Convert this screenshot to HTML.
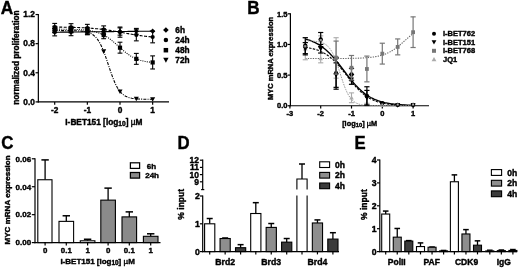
<!DOCTYPE html>
<html><head><meta charset="utf-8"><title>Figure</title>
<style>
html,body{margin:0;padding:0;background:#fff;}
body{width:520px;height:268px;overflow:hidden;}
svg{display:block;font-family:"Liberation Sans",Arial,Helvetica,sans-serif;font-weight:bold;fill:#000;}
text{stroke:#000;stroke-width:0.4px;stroke-linejoin:round;}
</style></head><body>
<svg width="520" height="268" viewBox="0 0 520 268">
<defs><filter id="soft" x="-2%" y="-2%" width="104%" height="104%"><feGaussianBlur stdDeviation="0.3"/></filter></defs>
<rect width="520" height="268" fill="#fff"/>
<g filter="url(#soft)">
<g id="panelA">
<text transform="translate(0.80,13.50) scale(0.96,1)" font-size="18" text-anchor="start">A</text>
<line x1="38.35" y1="13.94" x2="38.35" y2="102.50" stroke="#000" stroke-width="1.2" />
<line x1="37.75" y1="101.90" x2="169.00" y2="101.90" stroke="#000" stroke-width="1.2" />
<line x1="35.55" y1="14.54" x2="38.35" y2="14.54" stroke="#000" stroke-width="1.2" />
<text x="34.85" y="17.34" font-size="8.3" text-anchor="end" >1.2</text>
<line x1="35.55" y1="43.66" x2="38.35" y2="43.66" stroke="#000" stroke-width="1.2" />
<text x="34.85" y="46.46" font-size="8.3" text-anchor="end" >0.8</text>
<line x1="35.55" y1="72.78" x2="38.35" y2="72.78" stroke="#000" stroke-width="1.2" />
<text x="34.85" y="75.58" font-size="8.3" text-anchor="end" >0.4</text>
<line x1="35.55" y1="101.90" x2="38.35" y2="101.90" stroke="#000" stroke-width="1.2" />
<text x="34.85" y="104.70" font-size="8.3" text-anchor="end" >0.0</text>
<line x1="54.70" y1="101.90" x2="54.70" y2="104.70" stroke="#000" stroke-width="1.2" />
<text x="54.70" y="113.10" font-size="8.3" text-anchor="middle" >-2</text>
<line x1="87.35" y1="101.90" x2="87.35" y2="104.70" stroke="#000" stroke-width="1.2" />
<text x="87.35" y="113.10" font-size="8.3" text-anchor="middle" >-1</text>
<line x1="120.00" y1="101.90" x2="120.00" y2="104.70" stroke="#000" stroke-width="1.2" />
<text x="120.00" y="113.10" font-size="8.3" text-anchor="middle" >0</text>
<line x1="152.65" y1="101.90" x2="152.65" y2="104.70" stroke="#000" stroke-width="1.2" />
<text x="152.65" y="113.10" font-size="8.3" text-anchor="middle" >1</text>
<text transform="translate(19.30,57.60) rotate(-90)" font-size="8.3" text-anchor="middle">normalized proliferation</text>
<text x="103.90" y="124.60" font-size="8.3" text-anchor="middle" >I-BET151 [log<tspan font-size="6.64" dy="1.7">10</tspan><tspan dy="-1.7">]</tspan> <tspan font-weight="normal">µ</tspan>M</text>
<polyline points="54.70,32.23 55.92,32.22 57.15,32.20 58.37,32.19 59.60,32.18 60.82,32.16 62.05,32.15 63.27,32.13 64.50,32.12 65.72,32.11 66.94,32.09 68.17,32.08 69.39,32.07 70.62,32.05 71.84,32.04 73.07,32.03 74.29,32.01 75.51,32.00 76.74,31.98 77.96,31.97 79.19,31.96 80.41,31.94 81.64,31.93 82.86,31.92 84.09,31.90 85.31,31.89 86.53,31.88 87.76,31.86 88.98,31.85 90.21,31.83 91.43,31.82 92.66,31.81 93.88,31.79 95.10,31.78 96.33,31.77 97.55,31.75 98.78,31.74 100.00,31.73 101.23,31.71 102.45,31.70 103.67,31.68 104.90,31.67 106.12,31.66 107.35,31.64 108.57,31.63 109.80,31.62 111.02,31.60 112.25,31.59 113.47,31.58 114.69,31.56 115.92,31.55 117.14,31.53 118.37,31.52 119.59,31.51 120.82,31.49 122.04,31.48 123.27,31.47 124.49,31.45 125.71,31.44 126.94,31.43 128.16,31.41 129.39,31.40 130.61,31.38 131.84,31.37 133.06,31.36 134.28,31.34 135.51,31.33 136.73,31.32 137.96,31.30 139.18,31.29 140.41,31.27 141.63,31.26 142.86,31.25 144.08,31.23 145.30,31.22 146.53,31.21 147.75,31.19 148.98,31.18 150.20,31.17 151.43,31.15 152.65,31.14" fill="none" stroke="#000" stroke-width="1.1" />
<polyline points="54.70,27.06 55.92,27.08 57.15,27.09 58.37,27.10 59.60,27.12 60.82,27.13 62.05,27.15 63.27,27.17 64.50,27.19 65.72,27.21 66.94,27.23 68.17,27.26 69.39,27.29 70.62,27.31 71.84,27.34 73.07,27.38 74.29,27.41 75.51,27.45 76.74,27.49 77.96,27.54 79.19,27.59 80.41,27.64 81.64,27.69 82.86,27.75 84.09,27.81 85.31,27.88 86.53,27.95 87.76,28.02 88.98,28.10 90.21,28.19 91.43,28.28 92.66,28.38 93.88,28.48 95.10,28.59 96.33,28.70 97.55,28.82 98.78,28.95 100.00,29.08 101.23,29.22 102.45,29.37 103.67,29.52 104.90,29.68 106.12,29.85 107.35,30.03 108.57,30.21 109.80,30.39 111.02,30.58 112.25,30.78 113.47,30.99 114.69,31.19 115.92,31.41 117.14,31.62 118.37,31.84 119.59,32.06 120.82,32.29 122.04,32.51 123.27,32.74 124.49,32.97 125.71,33.19 126.94,33.42 128.16,33.64 129.39,33.86 130.61,34.07 131.84,34.29 133.06,34.49 134.28,34.70 135.51,34.90 136.73,35.09 137.96,35.27 139.18,35.45 140.41,35.63 141.63,35.80 142.86,35.96 144.08,36.11 145.30,36.26 146.53,36.40 147.75,36.53 148.98,36.66 150.20,36.78 151.43,36.89 152.65,37.00" fill="none" stroke="#000" stroke-width="1.1" stroke-dasharray="3,1.5"/>
<polyline points="54.70,29.14 55.92,29.15 57.15,29.15 58.37,29.16 59.60,29.17 60.82,29.18 62.05,29.19 63.27,29.20 64.50,29.21 65.72,29.23 66.94,29.25 68.17,29.27 69.39,29.29 70.62,29.32 71.84,29.35 73.07,29.38 74.29,29.42 75.51,29.46 76.74,29.51 77.96,29.57 79.19,29.63 80.41,29.71 81.64,29.79 82.86,29.88 84.09,29.99 85.31,30.11 86.53,30.24 87.76,30.39 88.98,30.56 90.21,30.76 91.43,30.97 92.66,31.21 93.88,31.49 95.10,31.79 96.33,32.13 97.55,32.51 98.78,32.93 100.00,33.39 101.23,33.90 102.45,34.46 103.67,35.07 104.90,35.74 106.12,36.46 107.35,37.23 108.57,38.06 109.80,38.94 111.02,39.88 112.25,40.85 113.47,41.87 114.69,42.93 115.92,44.00 117.14,45.10 118.37,46.21 119.59,47.31 120.82,48.41 122.04,49.49 123.27,50.54 124.49,51.56 125.71,52.54 126.94,53.47 128.16,54.36 129.39,55.19 130.61,55.96 131.84,56.68 133.06,57.35 134.28,57.96 135.51,58.52 136.73,59.03 137.96,59.49 139.18,59.91 140.41,60.29 141.63,60.63 142.86,60.93 144.08,61.20 145.30,61.44 146.53,61.66 147.75,61.85 148.98,62.02 150.20,62.18 151.43,62.31 152.65,62.43" fill="none" stroke="#000" stroke-width="1.1" stroke-dasharray="1,1.2"/>
<polyline points="54.70,30.56 55.92,30.56 57.15,30.56 58.37,30.57 59.60,30.57 60.82,30.57 62.05,30.58 63.27,30.58 64.50,30.59 65.72,30.59 66.94,30.60 68.17,30.61 69.39,30.63 70.62,30.64 71.84,30.66 73.07,30.69 74.29,30.72 75.51,30.76 76.74,30.81 77.96,30.88 79.19,30.95 80.41,31.05 81.64,31.16 82.86,31.31 84.09,31.49 85.31,31.71 86.53,31.98 87.76,32.31 88.98,32.72 90.21,33.23 91.43,33.84 92.66,34.58 93.88,35.49 95.10,36.57 96.33,37.86 97.55,39.40 98.78,41.20 100.00,43.29 101.23,45.68 102.45,48.38 103.67,51.38 104.90,54.64 106.12,58.12 107.35,61.75 108.57,65.45 109.80,69.14 111.02,72.74 112.25,76.16 113.47,79.36 114.69,82.28 115.92,84.89 117.14,87.21 118.37,89.22 119.59,90.94 120.82,92.41 122.04,93.65 123.27,94.68 124.49,95.54 125.71,96.24 126.94,96.83 128.16,97.30 129.39,97.69 130.61,98.01 131.84,98.26 133.06,98.47 134.28,98.64 135.51,98.78 136.73,98.89 137.96,98.98 139.18,99.05 140.41,99.11 141.63,99.16 142.86,99.19 144.08,99.22 145.30,99.25 146.53,99.27 147.75,99.29 148.98,99.30 150.20,99.31 151.43,99.32 152.65,99.32" fill="none" stroke="#000" stroke-width="1.1" stroke-dasharray="3,1.2,1,1.2"/>
<line x1="54.70" y1="28.59" x2="54.70" y2="35.87" stroke="#000" stroke-width="1.1" />
<line x1="52.30" y1="28.59" x2="57.10" y2="28.59" stroke="#000" stroke-width="1.1" />
<line x1="52.30" y1="35.87" x2="57.10" y2="35.87" stroke="#000" stroke-width="1.1" />
<polygon points="54.70,29.61 57.33,32.23 54.70,34.86 52.08,32.23" fill="#000"/>
<line x1="54.70" y1="23.42" x2="54.70" y2="30.70" stroke="#000" stroke-width="1.1" />
<line x1="52.30" y1="23.42" x2="57.10" y2="23.42" stroke="#000" stroke-width="1.1" />
<line x1="52.30" y1="30.70" x2="57.10" y2="30.70" stroke="#000" stroke-width="1.1" />
<circle cx="54.70" cy="27.06" r="2.10" fill="#000"/>
<line x1="54.70" y1="26.23" x2="54.70" y2="32.05" stroke="#000" stroke-width="1.1" />
<line x1="52.30" y1="26.23" x2="57.10" y2="26.23" stroke="#000" stroke-width="1.1" />
<line x1="52.30" y1="32.05" x2="57.10" y2="32.05" stroke="#000" stroke-width="1.1" />
<rect x="52.60" y="27.04" width="4.20" height="4.20" fill="#000"/>
<line x1="54.70" y1="28.38" x2="54.70" y2="32.75" stroke="#000" stroke-width="1.1" />
<line x1="52.30" y1="28.38" x2="57.10" y2="28.38" stroke="#000" stroke-width="1.1" />
<line x1="52.30" y1="32.75" x2="57.10" y2="32.75" stroke="#000" stroke-width="1.1" />
<polygon points="52.18,28.55 57.22,28.55 54.70,33.08" fill="#000"/>
<line x1="71.03" y1="28.41" x2="71.03" y2="35.69" stroke="#000" stroke-width="1.1" />
<line x1="68.62" y1="28.41" x2="73.43" y2="28.41" stroke="#000" stroke-width="1.1" />
<line x1="68.62" y1="35.69" x2="73.43" y2="35.69" stroke="#000" stroke-width="1.1" />
<polygon points="71.03,29.42 73.65,32.05 71.03,34.67 68.40,32.05" fill="#000"/>
<line x1="71.03" y1="23.68" x2="71.03" y2="30.96" stroke="#000" stroke-width="1.1" />
<line x1="68.62" y1="23.68" x2="73.43" y2="23.68" stroke="#000" stroke-width="1.1" />
<line x1="68.62" y1="30.96" x2="73.43" y2="30.96" stroke="#000" stroke-width="1.1" />
<circle cx="71.03" cy="27.32" r="2.10" fill="#000"/>
<line x1="71.03" y1="26.42" x2="71.03" y2="32.24" stroke="#000" stroke-width="1.1" />
<line x1="68.62" y1="26.42" x2="73.43" y2="26.42" stroke="#000" stroke-width="1.1" />
<line x1="68.62" y1="32.24" x2="73.43" y2="32.24" stroke="#000" stroke-width="1.1" />
<rect x="68.93" y="27.23" width="4.20" height="4.20" fill="#000"/>
<line x1="71.03" y1="28.47" x2="71.03" y2="32.83" stroke="#000" stroke-width="1.1" />
<line x1="68.62" y1="28.47" x2="73.43" y2="28.47" stroke="#000" stroke-width="1.1" />
<line x1="68.62" y1="32.83" x2="73.43" y2="32.83" stroke="#000" stroke-width="1.1" />
<polygon points="68.51,28.63 73.55,28.63 71.03,33.17" fill="#000"/>
<line x1="87.35" y1="28.95" x2="87.35" y2="34.78" stroke="#000" stroke-width="1.1" />
<line x1="84.95" y1="28.95" x2="89.75" y2="28.95" stroke="#000" stroke-width="1.1" />
<line x1="84.95" y1="34.78" x2="89.75" y2="34.78" stroke="#000" stroke-width="1.1" />
<polygon points="87.35,29.24 89.97,31.87 87.35,34.49 84.72,31.87" fill="#000"/>
<line x1="87.35" y1="24.36" x2="87.35" y2="31.64" stroke="#000" stroke-width="1.1" />
<line x1="84.95" y1="24.36" x2="89.75" y2="24.36" stroke="#000" stroke-width="1.1" />
<line x1="84.95" y1="31.64" x2="89.75" y2="31.64" stroke="#000" stroke-width="1.1" />
<circle cx="87.35" cy="28.00" r="2.10" fill="#000"/>
<line x1="87.35" y1="27.43" x2="87.35" y2="33.25" stroke="#000" stroke-width="1.1" />
<line x1="84.95" y1="27.43" x2="89.75" y2="27.43" stroke="#000" stroke-width="1.1" />
<line x1="84.95" y1="33.25" x2="89.75" y2="33.25" stroke="#000" stroke-width="1.1" />
<rect x="85.25" y="28.24" width="4.20" height="4.20" fill="#000"/>
<line x1="87.35" y1="30.01" x2="87.35" y2="34.38" stroke="#000" stroke-width="1.1" />
<line x1="84.95" y1="30.01" x2="89.75" y2="30.01" stroke="#000" stroke-width="1.1" />
<line x1="84.95" y1="34.38" x2="89.75" y2="34.38" stroke="#000" stroke-width="1.1" />
<polygon points="84.83,30.18 89.87,30.18 87.35,34.72" fill="#000"/>
<line x1="103.67" y1="28.77" x2="103.67" y2="34.60" stroke="#000" stroke-width="1.1" />
<line x1="101.27" y1="28.77" x2="106.08" y2="28.77" stroke="#000" stroke-width="1.1" />
<line x1="101.27" y1="34.60" x2="106.08" y2="34.60" stroke="#000" stroke-width="1.1" />
<polygon points="103.67,29.06 106.30,31.68 103.67,34.31 101.05,31.68" fill="#000"/>
<line x1="103.67" y1="25.88" x2="103.67" y2="33.16" stroke="#000" stroke-width="1.1" />
<line x1="101.27" y1="25.88" x2="106.08" y2="25.88" stroke="#000" stroke-width="1.1" />
<line x1="101.27" y1="33.16" x2="106.08" y2="33.16" stroke="#000" stroke-width="1.1" />
<circle cx="103.67" cy="29.52" r="2.10" fill="#000"/>
<line x1="103.67" y1="31.43" x2="103.67" y2="38.71" stroke="#000" stroke-width="1.1" />
<line x1="101.27" y1="31.43" x2="106.08" y2="31.43" stroke="#000" stroke-width="1.1" />
<line x1="101.27" y1="38.71" x2="106.08" y2="38.71" stroke="#000" stroke-width="1.1" />
<rect x="101.58" y="32.97" width="4.20" height="4.20" fill="#000"/>
<polygon points="101.16,49.36 106.19,49.36 103.67,53.90" fill="#000"/>
<line x1="120.00" y1="27.86" x2="120.00" y2="35.14" stroke="#000" stroke-width="1.1" />
<line x1="117.60" y1="27.86" x2="122.40" y2="27.86" stroke="#000" stroke-width="1.1" />
<line x1="117.60" y1="35.14" x2="122.40" y2="35.14" stroke="#000" stroke-width="1.1" />
<polygon points="120.00,28.88 122.62,31.50 120.00,34.13 117.38,31.50" fill="#000"/>
<line x1="120.00" y1="27.04" x2="120.00" y2="37.23" stroke="#000" stroke-width="1.1" />
<line x1="117.60" y1="27.04" x2="122.40" y2="27.04" stroke="#000" stroke-width="1.1" />
<line x1="117.60" y1="37.23" x2="122.40" y2="37.23" stroke="#000" stroke-width="1.1" />
<circle cx="120.00" cy="32.14" r="2.10" fill="#000"/>
<line x1="120.00" y1="42.22" x2="120.00" y2="53.14" stroke="#000" stroke-width="1.1" />
<line x1="117.60" y1="42.22" x2="122.40" y2="42.22" stroke="#000" stroke-width="1.1" />
<line x1="117.60" y1="53.14" x2="122.40" y2="53.14" stroke="#000" stroke-width="1.1" />
<rect x="117.90" y="45.58" width="4.20" height="4.20" fill="#000"/>
<polygon points="117.48,89.44 122.52,89.44 120.00,93.98" fill="#000"/>
<line x1="136.32" y1="28.41" x2="136.32" y2="34.23" stroke="#000" stroke-width="1.1" />
<line x1="133.92" y1="28.41" x2="138.72" y2="28.41" stroke="#000" stroke-width="1.1" />
<line x1="133.92" y1="34.23" x2="138.72" y2="34.23" stroke="#000" stroke-width="1.1" />
<polygon points="136.32,28.70 138.95,31.32 136.32,33.95 133.70,31.32" fill="#000"/>
<line x1="136.32" y1="29.20" x2="136.32" y2="40.85" stroke="#000" stroke-width="1.1" />
<line x1="133.92" y1="29.20" x2="138.72" y2="29.20" stroke="#000" stroke-width="1.1" />
<line x1="133.92" y1="40.85" x2="138.72" y2="40.85" stroke="#000" stroke-width="1.1" />
<circle cx="136.32" cy="35.02" r="2.10" fill="#000"/>
<line x1="136.32" y1="53.40" x2="136.32" y2="64.32" stroke="#000" stroke-width="1.1" />
<line x1="133.92" y1="53.40" x2="138.72" y2="53.40" stroke="#000" stroke-width="1.1" />
<line x1="133.92" y1="64.32" x2="138.72" y2="64.32" stroke="#000" stroke-width="1.1" />
<rect x="134.22" y="56.76" width="4.20" height="4.20" fill="#000"/>
<polygon points="133.80,96.84 138.84,96.84 136.32,101.37" fill="#000"/>
<polygon points="152.65,28.51 155.28,31.14 152.65,33.76 150.03,31.14" fill="#000"/>
<line x1="152.65" y1="31.18" x2="152.65" y2="42.83" stroke="#000" stroke-width="1.1" />
<line x1="150.25" y1="31.18" x2="155.05" y2="31.18" stroke="#000" stroke-width="1.1" />
<line x1="150.25" y1="42.83" x2="155.05" y2="42.83" stroke="#000" stroke-width="1.1" />
<circle cx="152.65" cy="37.00" r="2.10" fill="#000"/>
<line x1="152.65" y1="55.88" x2="152.65" y2="68.98" stroke="#000" stroke-width="1.1" />
<line x1="150.25" y1="55.88" x2="155.05" y2="55.88" stroke="#000" stroke-width="1.1" />
<line x1="150.25" y1="68.98" x2="155.05" y2="68.98" stroke="#000" stroke-width="1.1" />
<rect x="150.55" y="60.33" width="4.20" height="4.20" fill="#000"/>
<polygon points="150.13,97.31 155.17,97.31 152.65,101.84" fill="#000"/>
<polygon points="165.90,27.19 168.71,30.00 165.90,32.81 163.09,30.00" fill="#000"/>
<text x="175.30" y="33.00" font-size="8.3" text-anchor="start" >6h</text>
<circle cx="165.90" cy="40.00" r="2.25" fill="#000"/>
<text x="175.30" y="43.00" font-size="8.3" text-anchor="start" >24h</text>
<rect x="163.65" y="47.95" width="4.50" height="4.50" fill="#000"/>
<text x="175.30" y="53.20" font-size="8.3" text-anchor="start" >48h</text>
<polygon points="163.20,57.84 168.60,57.84 165.90,62.70" fill="#000"/>
<text x="175.30" y="63.00" font-size="8.3" text-anchor="start" >72h</text>
</g>
<g id="panelB">
<text transform="translate(247.30,14.00) scale(0.95,1)" font-size="18" text-anchor="start">B</text>
<line x1="290.40" y1="13.20" x2="290.40" y2="106.35" stroke="#000" stroke-width="1.2" />
<line x1="289.80" y1="105.75" x2="429.00" y2="105.75" stroke="#000" stroke-width="1.2" />
<line x1="287.60" y1="13.80" x2="290.40" y2="13.80" stroke="#000" stroke-width="1.2" />
<text x="287.50" y="16.50" font-size="7.5" text-anchor="end" >1.5</text>
<line x1="287.60" y1="44.45" x2="290.40" y2="44.45" stroke="#000" stroke-width="1.2" />
<text x="287.50" y="47.15" font-size="7.5" text-anchor="end" >1.0</text>
<line x1="287.60" y1="75.10" x2="290.40" y2="75.10" stroke="#000" stroke-width="1.2" />
<text x="287.50" y="77.80" font-size="7.5" text-anchor="end" >0.5</text>
<line x1="287.60" y1="105.75" x2="290.40" y2="105.75" stroke="#000" stroke-width="1.2" />
<text x="287.50" y="108.45" font-size="7.5" text-anchor="end" >0.0</text>
<line x1="289.90" y1="105.75" x2="289.90" y2="108.55" stroke="#000" stroke-width="1.2" />
<text x="289.90" y="115.65" font-size="7.5" text-anchor="middle" >-3</text>
<line x1="320.70" y1="105.75" x2="320.70" y2="108.55" stroke="#000" stroke-width="1.2" />
<text x="320.70" y="115.65" font-size="7.5" text-anchor="middle" >-2</text>
<line x1="351.50" y1="105.75" x2="351.50" y2="108.55" stroke="#000" stroke-width="1.2" />
<text x="351.50" y="115.65" font-size="7.5" text-anchor="middle" >-1</text>
<line x1="382.30" y1="105.75" x2="382.30" y2="108.55" stroke="#000" stroke-width="1.2" />
<text x="382.30" y="115.65" font-size="7.5" text-anchor="middle" >0</text>
<line x1="413.10" y1="105.75" x2="413.10" y2="108.55" stroke="#000" stroke-width="1.2" />
<text x="413.10" y="115.65" font-size="7.5" text-anchor="middle" >1</text>
<text transform="translate(272.60,58.50) rotate(-90)" font-size="7.5" text-anchor="middle">MYC mRNA expression</text>
<text x="359.60" y="125.50" font-size="7.35" text-anchor="middle" >[log<tspan font-size="5.88" dy="1.7">10</tspan><tspan dy="-1.7">]</tspan> <tspan font-weight="normal">µ</tspan>M</text>
<polyline points="305.30,39.01 306.65,39.38 308.00,39.79 309.34,40.24 310.69,40.73 312.04,41.26 313.38,41.83 314.73,42.46 316.08,43.14 317.43,43.87 318.78,44.66 320.12,45.51 321.47,46.43 322.82,47.41 324.17,48.46 325.51,49.57 326.86,50.75 328.21,52.01 329.56,53.33 330.90,54.71 332.25,56.16 333.60,57.68 334.94,59.24 336.29,60.86 337.64,62.53 338.99,64.23 340.34,65.96 341.68,67.72 343.03,69.49 344.38,71.26 345.73,73.03 347.07,74.79 348.42,76.53 349.77,78.24 351.12,79.91 352.46,81.53 353.81,83.11 355.16,84.63 356.50,86.09 357.85,87.48 359.20,88.81 360.55,90.08 361.89,91.27 363.24,92.39 364.59,93.45 365.94,94.44 367.29,95.36 368.63,96.22 369.98,97.02 371.33,97.77 372.68,98.45 374.02,99.09 375.37,99.67 376.72,100.21 378.06,100.70 379.41,101.15 380.76,101.57 382.11,101.95 383.46,102.29 384.80,102.61 386.15,102.90 387.50,103.16 388.85,103.40 390.19,103.62 391.54,103.82 392.89,104.00 394.24,104.16 395.58,104.31 396.93,104.45 398.28,104.57 399.62,104.68 400.97,104.78 402.32,104.87 403.67,104.96 405.01,105.03 406.36,105.10 407.71,105.16 409.06,105.22 410.41,105.27 411.75,105.31 413.10,105.36" fill="none" stroke="#000" stroke-width="1.35" />
<polyline points="305.30,47.31 306.65,47.51 308.00,47.73 309.34,47.97 310.69,48.24 312.04,48.54 313.38,48.87 314.73,49.24 316.08,49.65 317.43,50.10 318.78,50.60 320.12,51.15 321.47,51.75 322.82,52.41 324.17,53.14 325.51,53.93 326.86,54.79 328.21,55.72 329.56,56.73 330.90,57.81 332.25,58.97 333.60,60.21 334.94,61.53 336.29,62.91 337.64,64.37 338.99,65.90 340.34,67.48 341.68,69.11 343.03,70.79 344.38,72.49 345.73,74.22 347.07,75.96 348.42,77.70 349.77,79.42 351.12,81.12 352.46,82.79 353.81,84.41 355.16,85.97 356.50,87.48 357.85,88.92 359.20,90.28 360.55,91.58 361.89,92.79 363.24,93.93 364.59,94.99 365.94,95.98 367.29,96.89 368.63,97.73 369.98,98.50 371.33,99.21 372.68,99.85 374.02,100.44 375.37,100.98 376.72,101.46 378.06,101.90 379.41,102.30 380.76,102.65 382.11,102.98 383.46,103.27 384.80,103.53 386.15,103.76 387.50,103.98 388.85,104.16 390.19,104.33 391.54,104.49 392.89,104.62 394.24,104.74 395.58,104.85 396.93,104.95 398.28,105.03 399.62,105.11 400.97,105.18 402.32,105.24 403.67,105.30 405.01,105.35 406.36,105.39 407.71,105.43 409.06,105.46 410.41,105.50 411.75,105.52 413.10,105.55" fill="none" stroke="#000" stroke-width="1.1" stroke-dasharray="2.5,1.3"/>
<polyline points="305.30,58.55 306.65,58.55 308.00,58.55 309.34,58.55 310.69,58.55 312.04,58.54 313.38,58.54 314.73,58.54 316.08,58.54 317.43,58.54 318.78,58.54 320.12,58.54 321.47,58.54 322.82,58.54 324.17,58.54 325.51,58.53 326.86,58.53 328.21,58.53 329.56,58.53 330.90,58.52 332.25,58.52 333.60,58.51 334.94,58.51 336.29,58.50 337.64,58.50 338.99,58.49 340.34,58.48 341.68,58.47 343.03,58.46 344.38,58.45 345.73,58.44 347.07,58.42 348.42,58.40 349.77,58.38 351.12,58.36 352.46,58.34 353.81,58.31 355.16,58.27 356.50,58.23 357.85,58.19 359.20,58.14 360.55,58.08 361.89,58.02 363.24,57.95 364.59,57.87 365.94,57.77 367.29,57.67 368.63,57.55 369.98,57.41 371.33,57.26 372.68,57.08 374.02,56.89 375.37,56.66 376.72,56.42 378.06,56.14 379.41,55.82 380.76,55.47 382.11,55.09 383.46,54.65 384.80,54.17 386.15,53.64 387.50,53.06 388.85,52.42 390.19,51.72 391.54,50.96 392.89,50.14 394.24,49.26 395.58,48.32 396.93,47.33 398.28,46.28 399.62,45.19 400.97,44.06 402.32,42.89 403.67,41.70 405.01,40.50 406.36,39.30 407.71,38.10 409.06,36.92 410.41,35.77 411.75,34.66 413.10,33.58" fill="none" stroke="#666" stroke-width="1.1" stroke-dasharray="1.3,1.2"/>
<polyline points="305.30,40.85 306.65,40.87 308.00,40.90 309.34,40.94 310.69,40.98 312.04,41.05 313.38,41.13 314.73,41.24 316.08,41.38 317.43,41.55 318.78,41.78 320.12,42.08 321.47,42.46 322.82,42.95 324.17,43.58 325.51,44.37 326.86,45.37 328.21,46.63 329.56,48.18 330.90,50.08 332.25,52.37 333.60,55.08 334.94,58.21 336.29,61.75 337.64,65.63 338.99,69.75 340.34,73.99 341.68,78.21 343.03,82.26 344.38,86.03 345.73,89.43 347.07,92.42 348.42,94.98 349.77,97.14 351.12,98.91 352.46,100.36 353.81,101.52 355.16,102.44 356.50,103.18 357.85,103.75 359.20,104.20 360.55,104.55 361.89,104.82 363.24,105.03 364.59,105.20 365.94,105.32 367.29,105.42 368.63,105.50 369.98,105.56 371.33,105.60 372.68,105.63 374.02,105.66 375.37,105.68 376.72,105.70 378.06,105.71 379.41,105.72 380.76,105.73 382.11,105.73 383.46,105.74 384.80,105.74 386.15,105.74 387.50,105.74 388.85,105.75 390.19,105.75 391.54,105.75 392.89,105.75 394.24,105.75 395.58,105.75 396.93,105.75 398.28,105.75 399.62,105.75 400.97,105.75 402.32,105.75 403.67,105.75 405.01,105.75 406.36,105.75 407.71,105.75 409.06,105.75 410.41,105.75 411.75,105.75 413.10,105.75" fill="none" stroke="#999" stroke-width="1.0" stroke-dasharray="1.6,1"/>
<line x1="305.30" y1="37.71" x2="305.30" y2="59.78" stroke="#aaa" stroke-width="1.1" />
<line x1="302.70" y1="37.71" x2="307.90" y2="37.71" stroke="#aaa" stroke-width="1.1" />
<line x1="302.70" y1="59.78" x2="307.90" y2="59.78" stroke="#aaa" stroke-width="1.1" />
<polygon points="303.02,50.56 307.58,50.56 305.30,46.46" fill="#aaa"/>
<line x1="320.70" y1="35.87" x2="320.70" y2="62.84" stroke="#aaa" stroke-width="1.1" />
<line x1="318.10" y1="35.87" x2="323.30" y2="35.87" stroke="#aaa" stroke-width="1.1" />
<line x1="318.10" y1="62.84" x2="323.30" y2="62.84" stroke="#aaa" stroke-width="1.1" />
<polygon points="318.42,60.37 322.98,60.37 320.70,56.27" fill="#aaa"/>
<line x1="336.10" y1="37.71" x2="336.10" y2="78.16" stroke="#aaa" stroke-width="1.1" />
<line x1="333.50" y1="37.71" x2="338.70" y2="37.71" stroke="#aaa" stroke-width="1.1" />
<line x1="333.50" y1="78.16" x2="338.70" y2="78.16" stroke="#aaa" stroke-width="1.1" />
<polygon points="333.82,59.76 338.38,59.76 336.10,55.66" fill="#aaa"/>
<line x1="351.50" y1="92.88" x2="351.50" y2="102.69" stroke="#aaa" stroke-width="1.1" />
<line x1="348.90" y1="92.88" x2="354.10" y2="92.88" stroke="#aaa" stroke-width="1.1" />
<line x1="348.90" y1="102.69" x2="354.10" y2="102.69" stroke="#aaa" stroke-width="1.1" />
<polygon points="349.22,99.61 353.78,99.61 351.50,95.50" fill="#aaa"/>
<line x1="366.90" y1="103.30" x2="366.90" y2="105.75" stroke="#aaa" stroke-width="1.1" />
<line x1="364.30" y1="103.30" x2="369.50" y2="103.30" stroke="#aaa" stroke-width="1.1" />
<line x1="364.30" y1="105.75" x2="369.50" y2="105.75" stroke="#aaa" stroke-width="1.1" />
<polygon points="364.62,106.35 369.18,106.35 366.90,102.24" fill="#aaa"/>
<polygon points="380.02,106.96 384.58,106.96 382.30,102.86" fill="#aaa"/>
<polygon points="395.42,106.96 399.98,106.96 397.70,102.86" fill="#aaa"/>
<polygon points="410.82,106.96 415.38,106.96 413.10,102.86" fill="#aaa"/>
<line x1="305.30" y1="37.71" x2="305.30" y2="53.65" stroke="#000" stroke-width="1.2" />
<line x1="302.70" y1="37.71" x2="307.90" y2="37.71" stroke="#000" stroke-width="1.2" />
<line x1="302.70" y1="53.65" x2="307.90" y2="53.65" stroke="#000" stroke-width="1.2" />
<circle cx="305.30" cy="45.68" r="2.20" fill="#000"/>
<line x1="320.70" y1="32.50" x2="320.70" y2="46.60" stroke="#000" stroke-width="1.2" />
<line x1="318.10" y1="32.50" x2="323.30" y2="32.50" stroke="#000" stroke-width="1.2" />
<line x1="318.10" y1="46.60" x2="323.30" y2="46.60" stroke="#000" stroke-width="1.2" />
<circle cx="320.70" cy="39.55" r="2.20" fill="#000"/>
<line x1="336.10" y1="57.32" x2="336.10" y2="89.20" stroke="#000" stroke-width="1.2" />
<line x1="333.50" y1="57.32" x2="338.70" y2="57.32" stroke="#000" stroke-width="1.2" />
<line x1="333.50" y1="89.20" x2="338.70" y2="89.20" stroke="#000" stroke-width="1.2" />
<circle cx="336.10" cy="73.26" r="2.20" fill="#000"/>
<line x1="351.50" y1="68.36" x2="351.50" y2="80.62" stroke="#000" stroke-width="1.2" />
<line x1="348.90" y1="68.36" x2="354.10" y2="68.36" stroke="#000" stroke-width="1.2" />
<line x1="348.90" y1="80.62" x2="354.10" y2="80.62" stroke="#000" stroke-width="1.2" />
<circle cx="351.50" cy="74.49" r="2.20" fill="#000"/>
<line x1="366.90" y1="86.75" x2="366.90" y2="105.14" stroke="#000" stroke-width="1.2" />
<line x1="364.30" y1="86.75" x2="369.50" y2="86.75" stroke="#000" stroke-width="1.2" />
<line x1="364.30" y1="105.14" x2="369.50" y2="105.14" stroke="#000" stroke-width="1.2" />
<circle cx="366.90" cy="95.94" r="2.20" fill="#000"/>
<circle cx="382.30" cy="103.30" r="2.20" fill="#000"/>
<circle cx="397.70" cy="104.83" r="2.20" fill="#000"/>
<circle cx="413.10" cy="104.83" r="2.20" fill="#000"/>
<line x1="305.30" y1="42.61" x2="305.30" y2="54.87" stroke="#000" stroke-width="1.2" />
<line x1="302.70" y1="42.61" x2="307.90" y2="42.61" stroke="#000" stroke-width="1.2" />
<line x1="302.70" y1="54.87" x2="307.90" y2="54.87" stroke="#000" stroke-width="1.2" />
<polygon points="302.78,46.73 307.82,46.73 305.30,51.26" fill="#000"/>
<line x1="320.70" y1="44.45" x2="320.70" y2="53.03" stroke="#000" stroke-width="1.2" />
<line x1="318.10" y1="44.45" x2="323.30" y2="44.45" stroke="#000" stroke-width="1.2" />
<line x1="318.10" y1="53.03" x2="323.30" y2="53.03" stroke="#000" stroke-width="1.2" />
<polygon points="318.18,46.73 323.22,46.73 320.70,51.26" fill="#000"/>
<line x1="336.10" y1="62.84" x2="336.10" y2="87.36" stroke="#000" stroke-width="1.2" />
<line x1="333.50" y1="62.84" x2="338.70" y2="62.84" stroke="#000" stroke-width="1.2" />
<line x1="333.50" y1="87.36" x2="338.70" y2="87.36" stroke="#000" stroke-width="1.2" />
<polygon points="333.58,73.08 338.62,73.08 336.10,77.62" fill="#000"/>
<line x1="351.50" y1="74.49" x2="351.50" y2="84.30" stroke="#000" stroke-width="1.2" />
<line x1="348.90" y1="74.49" x2="354.10" y2="74.49" stroke="#000" stroke-width="1.2" />
<line x1="348.90" y1="84.30" x2="354.10" y2="84.30" stroke="#000" stroke-width="1.2" />
<polygon points="348.98,77.38 354.02,77.38 351.50,81.91" fill="#000"/>
<line x1="366.90" y1="90.42" x2="366.90" y2="105.14" stroke="#000" stroke-width="1.2" />
<line x1="364.30" y1="90.42" x2="369.50" y2="90.42" stroke="#000" stroke-width="1.2" />
<line x1="364.30" y1="105.14" x2="369.50" y2="105.14" stroke="#000" stroke-width="1.2" />
<polygon points="364.38,95.77 369.42,95.77 366.90,100.30" fill="#000"/>
<polygon points="379.78,101.89 384.82,101.89 382.30,106.43" fill="#000"/>
<polygon points="395.18,103.12 400.22,103.12 397.70,107.66" fill="#000"/>
<polygon points="410.58,103.12 415.62,103.12 413.10,107.66" fill="#000"/>
<rect x="304.20" y="45.19" width="2.20" height="2.20" fill="#999"/>
<rect x="319.60" y="39.06" width="2.20" height="2.20" fill="#999"/>
<line x1="336.10" y1="41.08" x2="336.10" y2="74.18" stroke="#777" stroke-width="1.2" />
<line x1="333.50" y1="41.08" x2="338.70" y2="41.08" stroke="#777" stroke-width="1.2" />
<line x1="333.50" y1="74.18" x2="338.70" y2="74.18" stroke="#777" stroke-width="1.2" />
<rect x="334.20" y="55.73" width="3.80" height="3.80" fill="#777"/>
<line x1="351.50" y1="55.48" x2="351.50" y2="80.00" stroke="#777" stroke-width="1.2" />
<line x1="348.90" y1="55.48" x2="354.10" y2="55.48" stroke="#777" stroke-width="1.2" />
<line x1="348.90" y1="80.00" x2="354.10" y2="80.00" stroke="#777" stroke-width="1.2" />
<rect x="349.60" y="65.84" width="3.80" height="3.80" fill="#777"/>
<line x1="366.90" y1="56.10" x2="366.90" y2="81.84" stroke="#777" stroke-width="1.2" />
<line x1="364.30" y1="56.10" x2="369.50" y2="56.10" stroke="#777" stroke-width="1.2" />
<line x1="364.30" y1="81.84" x2="369.50" y2="81.84" stroke="#777" stroke-width="1.2" />
<rect x="365.00" y="67.07" width="3.80" height="3.80" fill="#777"/>
<line x1="382.30" y1="43.22" x2="382.30" y2="64.07" stroke="#777" stroke-width="1.2" />
<line x1="379.70" y1="43.22" x2="384.90" y2="43.22" stroke="#777" stroke-width="1.2" />
<line x1="379.70" y1="64.07" x2="384.90" y2="64.07" stroke="#777" stroke-width="1.2" />
<rect x="380.40" y="51.75" width="3.80" height="3.80" fill="#777"/>
<line x1="397.70" y1="38.93" x2="397.70" y2="54.87" stroke="#777" stroke-width="1.2" />
<line x1="395.10" y1="38.93" x2="400.30" y2="38.93" stroke="#777" stroke-width="1.2" />
<line x1="395.10" y1="54.87" x2="400.30" y2="54.87" stroke="#777" stroke-width="1.2" />
<rect x="395.80" y="45.00" width="3.80" height="3.80" fill="#777"/>
<line x1="413.10" y1="16.87" x2="413.10" y2="47.52" stroke="#777" stroke-width="1.2" />
<line x1="410.50" y1="16.87" x2="415.70" y2="16.87" stroke="#777" stroke-width="1.2" />
<line x1="410.50" y1="47.52" x2="415.70" y2="47.52" stroke="#777" stroke-width="1.2" />
<rect x="411.20" y="30.29" width="3.80" height="3.80" fill="#777"/>
<rect x="381.30" y="103.52" width="2.00" height="2.00" fill="#aaa"/>
<rect x="396.70" y="103.52" width="2.00" height="2.00" fill="#aaa"/>
<rect x="412.10" y="103.52" width="2.00" height="2.00" fill="#aaa"/>
<circle cx="434.00" cy="33.80" r="2.00" fill="#000"/>
<text x="443.00" y="36.40" font-size="7.5" text-anchor="start" >I-BET762</text>
<polygon points="431.60,40.28 436.40,40.28 434.00,44.60" fill="#000"/>
<text x="443.00" y="44.80" font-size="7.5" text-anchor="start" >I-BET151</text>
<rect x="432.00" y="48.80" width="4.00" height="4.00" fill="#777"/>
<text x="443.00" y="53.40" font-size="7.5" text-anchor="start" >I-BET768</text>
<polygon points="431.60,61.22 436.40,61.22 434.00,56.90" fill="#aaa"/>
<text x="443.00" y="61.90" font-size="7.5" text-anchor="start" >JQ1</text>
</g>
<g id="panelC">
<text transform="translate(1.20,148.80) scale(0.94,1)" font-size="18" text-anchor="start">C</text>
<line x1="35.00" y1="158.18" x2="35.00" y2="243.20" stroke="#000" stroke-width="1.2" />
<line x1="34.40" y1="242.60" x2="160.50" y2="242.60" stroke="#000" stroke-width="1.2" />
<line x1="31.80" y1="158.78" x2="35.00" y2="158.78" stroke="#000" stroke-width="1.2" />
<text x="31.10" y="161.58" font-size="8.0" text-anchor="end" >0.06</text>
<line x1="31.80" y1="186.72" x2="35.00" y2="186.72" stroke="#000" stroke-width="1.2" />
<text x="31.10" y="189.52" font-size="8.0" text-anchor="end" >0.04</text>
<line x1="31.80" y1="214.66" x2="35.00" y2="214.66" stroke="#000" stroke-width="1.2" />
<text x="31.10" y="217.46" font-size="8.0" text-anchor="end" >0.02</text>
<line x1="31.80" y1="242.60" x2="35.00" y2="242.60" stroke="#000" stroke-width="1.2" />
<text x="31.10" y="245.40" font-size="8.0" text-anchor="end" >0.00</text>
<text transform="translate(10.20,199.90) rotate(-90)" font-size="8.05" text-anchor="middle">MYC mRNA expression</text>
<line x1="45.10" y1="159.90" x2="45.10" y2="179.74" stroke="#000" stroke-width="1.3" />
<line x1="41.40" y1="159.90" x2="48.80" y2="159.90" stroke="#000" stroke-width="1.4949999999999999" />
<rect x="37.80" y="179.74" width="14.2" height="62.86" fill="#fff" stroke="#000" stroke-width="1.1"/>
<line x1="45.10" y1="242.60" x2="45.10" y2="245.40" stroke="#000" stroke-width="1.2" />
<text x="45.10" y="253.00" font-size="7.9" text-anchor="middle" >0</text>
<line x1="66.30" y1="215.78" x2="66.30" y2="221.37" stroke="#000" stroke-width="1.3" />
<line x1="62.60" y1="215.78" x2="70.00" y2="215.78" stroke="#000" stroke-width="1.4949999999999999" />
<rect x="59.00" y="221.37" width="14.6" height="21.23" fill="#fff" stroke="#000" stroke-width="1.1"/>
<line x1="66.30" y1="242.60" x2="66.30" y2="245.40" stroke="#000" stroke-width="1.2" />
<text x="66.30" y="253.00" font-size="7.9" text-anchor="middle" >0.1</text>
<line x1="87.60" y1="239.25" x2="87.60" y2="240.78" stroke="#000" stroke-width="1.3" />
<line x1="83.90" y1="239.25" x2="91.30" y2="239.25" stroke="#000" stroke-width="1.4949999999999999" />
<rect x="80.30" y="240.78" width="14.6" height="1.82" fill="#fff" stroke="#000" stroke-width="1.1"/>
<line x1="87.60" y1="242.60" x2="87.60" y2="245.40" stroke="#000" stroke-width="1.2" />
<text x="87.60" y="253.00" font-size="7.9" text-anchor="middle" >1</text>
<line x1="108.10" y1="188.12" x2="108.10" y2="200.13" stroke="#000" stroke-width="1.3" />
<line x1="104.40" y1="188.12" x2="111.80" y2="188.12" stroke="#000" stroke-width="1.4949999999999999" />
<rect x="100.80" y="200.13" width="14.6" height="42.47" fill="#8a8a8a" stroke="#000" stroke-width="1.1"/>
<line x1="108.10" y1="242.60" x2="108.10" y2="245.40" stroke="#000" stroke-width="1.2" />
<text x="108.10" y="253.00" font-size="7.9" text-anchor="middle" >0</text>
<line x1="129.30" y1="211.87" x2="129.30" y2="216.90" stroke="#000" stroke-width="1.3" />
<line x1="125.60" y1="211.87" x2="133.00" y2="211.87" stroke="#000" stroke-width="1.4949999999999999" />
<rect x="122.00" y="216.90" width="14.6" height="25.70" fill="#8a8a8a" stroke="#000" stroke-width="1.1"/>
<line x1="129.30" y1="242.60" x2="129.30" y2="245.40" stroke="#000" stroke-width="1.2" />
<text x="129.30" y="253.00" font-size="7.9" text-anchor="middle" >0.1</text>
<line x1="150.70" y1="233.80" x2="150.70" y2="236.31" stroke="#000" stroke-width="1.3" />
<line x1="147.00" y1="233.80" x2="154.40" y2="233.80" stroke="#000" stroke-width="1.4949999999999999" />
<rect x="143.40" y="236.31" width="14.6" height="6.29" fill="#8a8a8a" stroke="#000" stroke-width="1.1"/>
<line x1="150.70" y1="242.60" x2="150.70" y2="245.40" stroke="#000" stroke-width="1.2" />
<text x="150.70" y="253.00" font-size="7.9" text-anchor="middle" >1</text>
<text x="97.60" y="263.60" font-size="8.0" text-anchor="middle" >I-BET151 [log<tspan font-size="6.40" dy="1.7">10</tspan><tspan dy="-1.7">]</tspan> <tspan font-weight="normal">µ</tspan>M</text>
<rect x="130.4" y="162.8" width="9.2" height="5.6" fill="#fff" stroke="#000" stroke-width="1.25"/>
<text x="146.80" y="168.50" font-size="8.0" text-anchor="start" >6h</text>
<rect x="130.4" y="172.5" width="9.2" height="5.6" fill="#8a8a8a" stroke="#000" stroke-width="1.25"/>
<text x="145.20" y="178.20" font-size="8.0" text-anchor="start" >24h</text>
</g>
<g id="panelD">
<text transform="translate(177.50,148.70) scale(0.93,1)" font-size="18" text-anchor="start">D</text>
<line x1="202.70" y1="159.60" x2="202.70" y2="189.60" stroke="#000" stroke-width="1.2" />
<line x1="201.10" y1="189.60" x2="204.30" y2="189.60" stroke="#000" stroke-width="1.2" />
<line x1="202.70" y1="195.60" x2="202.70" y2="252.20" stroke="#000" stroke-width="1.2" />
<line x1="202.10" y1="251.60" x2="339.00" y2="251.60" stroke="#000" stroke-width="1.2" />
<line x1="199.90" y1="181.80" x2="202.70" y2="181.80" stroke="#000" stroke-width="1.2" />
<text x="199.00" y="184.70" font-size="8.5" text-anchor="end" >9</text>
<line x1="199.90" y1="174.60" x2="202.70" y2="174.60" stroke="#000" stroke-width="1.2" />
<text x="199.00" y="177.50" font-size="8.5" text-anchor="end" >10</text>
<line x1="199.90" y1="167.40" x2="202.70" y2="167.40" stroke="#000" stroke-width="1.2" />
<text x="199.00" y="170.30" font-size="8.5" text-anchor="end" >11</text>
<line x1="199.90" y1="160.20" x2="202.70" y2="160.20" stroke="#000" stroke-width="1.2" />
<text x="199.00" y="163.10" font-size="8.5" text-anchor="end" >12</text>
<line x1="199.90" y1="251.60" x2="202.70" y2="251.60" stroke="#000" stroke-width="1.2" />
<text x="199.80" y="254.70" font-size="8.7" text-anchor="end" >0</text>
<line x1="199.90" y1="223.80" x2="202.70" y2="223.80" stroke="#000" stroke-width="1.2" />
<text x="199.80" y="226.90" font-size="8.7" text-anchor="end" >1</text>
<line x1="199.90" y1="196.00" x2="202.70" y2="196.00" stroke="#000" stroke-width="1.2" />
<text x="199.80" y="199.10" font-size="8.7" text-anchor="end" >2</text>
<text transform="translate(184.00,204.30) rotate(-90)" font-size="8.5" text-anchor="middle">% input</text>
<line x1="209.70" y1="218.52" x2="209.70" y2="223.80" stroke="#000" stroke-width="1.3" />
<line x1="206.70" y1="218.52" x2="212.70" y2="218.52" stroke="#000" stroke-width="1.4949999999999999" />
<rect x="204.60" y="223.80" width="10.2" height="27.80" fill="#fff" stroke="#000" stroke-width="1.1"/>
<line x1="209.70" y1="251.60" x2="209.70" y2="254.40" stroke="#000" stroke-width="1.2" />
<line x1="225.15" y1="237.98" x2="225.15" y2="238.53" stroke="#000" stroke-width="1.3" />
<line x1="222.15" y1="237.98" x2="228.15" y2="237.98" stroke="#000" stroke-width="1.4949999999999999" />
<rect x="220.05" y="238.53" width="10.2" height="13.07" fill="#8e8e8e" stroke="#000" stroke-width="1.1"/>
<line x1="225.15" y1="251.60" x2="225.15" y2="254.40" stroke="#000" stroke-width="1.2" />
<line x1="240.60" y1="244.65" x2="240.60" y2="247.71" stroke="#000" stroke-width="1.3" />
<line x1="237.60" y1="244.65" x2="243.60" y2="244.65" stroke="#000" stroke-width="1.4949999999999999" />
<rect x="235.50" y="247.71" width="10.2" height="3.89" fill="#3a3a3a" stroke="#000" stroke-width="1.1"/>
<line x1="240.60" y1="251.60" x2="240.60" y2="254.40" stroke="#000" stroke-width="1.2" />
<text x="225.15" y="264.90" font-size="8.7" text-anchor="middle" >Brd2</text>
<line x1="255.80" y1="202.67" x2="255.80" y2="213.51" stroke="#000" stroke-width="1.3" />
<line x1="252.80" y1="202.67" x2="258.80" y2="202.67" stroke="#000" stroke-width="1.4949999999999999" />
<rect x="250.70" y="213.51" width="10.2" height="38.09" fill="#fff" stroke="#000" stroke-width="1.1"/>
<line x1="255.80" y1="251.60" x2="255.80" y2="254.40" stroke="#000" stroke-width="1.2" />
<line x1="271.25" y1="223.52" x2="271.25" y2="227.41" stroke="#000" stroke-width="1.3" />
<line x1="268.25" y1="223.52" x2="274.25" y2="223.52" stroke="#000" stroke-width="1.4949999999999999" />
<rect x="266.15" y="227.41" width="10.2" height="24.19" fill="#8e8e8e" stroke="#000" stroke-width="1.1"/>
<line x1="271.25" y1="251.60" x2="271.25" y2="254.40" stroke="#000" stroke-width="1.2" />
<line x1="286.70" y1="238.53" x2="286.70" y2="242.15" stroke="#000" stroke-width="1.3" />
<line x1="283.70" y1="238.53" x2="289.70" y2="238.53" stroke="#000" stroke-width="1.4949999999999999" />
<rect x="281.60" y="242.15" width="10.2" height="9.45" fill="#3a3a3a" stroke="#000" stroke-width="1.1"/>
<line x1="286.70" y1="251.60" x2="286.70" y2="254.40" stroke="#000" stroke-width="1.2" />
<text x="271.25" y="264.90" font-size="8.7" text-anchor="middle" >Brd3</text>
<line x1="302.00" y1="164.00" x2="302.00" y2="179.00" stroke="#000" stroke-width="1.3" />
<line x1="299.00" y1="164.00" x2="305.00" y2="164.00" stroke="#000" stroke-width="1.4949999999999999" />
<path d="M296.90,251.60 V195.6 M296.90,189.6 V179 H307.10 V189.6 M307.10,195.6 V251.60" fill="none" stroke="#000" stroke-width="1.1"/>
<line x1="302.00" y1="251.60" x2="302.00" y2="254.40" stroke="#000" stroke-width="1.2" />
<line x1="317.45" y1="219.91" x2="317.45" y2="222.97" stroke="#000" stroke-width="1.3" />
<line x1="314.45" y1="219.91" x2="320.45" y2="219.91" stroke="#000" stroke-width="1.4949999999999999" />
<rect x="312.35" y="222.97" width="10.2" height="28.63" fill="#8e8e8e" stroke="#000" stroke-width="1.1"/>
<line x1="317.45" y1="251.60" x2="317.45" y2="254.40" stroke="#000" stroke-width="1.2" />
<line x1="332.90" y1="232.70" x2="332.90" y2="239.09" stroke="#000" stroke-width="1.3" />
<line x1="329.90" y1="232.70" x2="335.90" y2="232.70" stroke="#000" stroke-width="1.4949999999999999" />
<rect x="327.80" y="239.09" width="10.2" height="12.51" fill="#3a3a3a" stroke="#000" stroke-width="1.1"/>
<line x1="332.90" y1="251.60" x2="332.90" y2="254.40" stroke="#000" stroke-width="1.2" />
<text x="317.45" y="264.90" font-size="8.7" text-anchor="middle" >Brd4</text>
<rect x="319.7" y="161.8" width="9.9" height="5.7" fill="#fff" stroke="#000" stroke-width="1.1"/>
<text x="335.00" y="167.70" font-size="8.5" text-anchor="start" >0h</text>
<rect x="319.7" y="172.4" width="9.9" height="5.7" fill="#8e8e8e" stroke="#000" stroke-width="1.1"/>
<text x="335.00" y="178.30" font-size="8.5" text-anchor="start" >2h</text>
<rect x="319.7" y="183.0" width="9.9" height="5.7" fill="#3a3a3a" stroke="#000" stroke-width="1.1"/>
<text x="335.00" y="188.90" font-size="8.5" text-anchor="start" >4h</text>
</g>
<g id="panelE">
<text transform="translate(354.50,148.70) scale(0.93,1)" font-size="18" text-anchor="start">E</text>
<line x1="379.80" y1="159.40" x2="379.80" y2="252.20" stroke="#000" stroke-width="1.2" />
<line x1="379.20" y1="251.60" x2="517.00" y2="251.60" stroke="#000" stroke-width="1.2" />
<line x1="377.00" y1="251.60" x2="379.80" y2="251.60" stroke="#000" stroke-width="1.2" />
<text x="376.50" y="254.70" font-size="8.7" text-anchor="end" >0</text>
<line x1="377.00" y1="228.70" x2="379.80" y2="228.70" stroke="#000" stroke-width="1.2" />
<text x="376.50" y="231.80" font-size="8.7" text-anchor="end" >1</text>
<line x1="377.00" y1="205.80" x2="379.80" y2="205.80" stroke="#000" stroke-width="1.2" />
<text x="376.50" y="208.90" font-size="8.7" text-anchor="end" >2</text>
<line x1="377.00" y1="182.90" x2="379.80" y2="182.90" stroke="#000" stroke-width="1.2" />
<text x="376.50" y="186.00" font-size="8.7" text-anchor="end" >3</text>
<line x1="377.00" y1="160.00" x2="379.80" y2="160.00" stroke="#000" stroke-width="1.2" />
<text x="376.50" y="163.10" font-size="8.7" text-anchor="end" >4</text>
<text transform="translate(366.80,204.60) rotate(-90)" font-size="8.5" text-anchor="middle">% input</text>
<line x1="385.70" y1="211.07" x2="385.70" y2="214.04" stroke="#000" stroke-width="1.3" />
<line x1="382.90" y1="211.07" x2="388.50" y2="211.07" stroke="#000" stroke-width="1.4949999999999999" />
<rect x="381.70" y="214.04" width="8.0" height="37.56" fill="#fff" stroke="#000" stroke-width="1.1"/>
<line x1="385.70" y1="251.60" x2="385.70" y2="254.40" stroke="#000" stroke-width="1.2" />
<line x1="397.25" y1="228.47" x2="397.25" y2="237.17" stroke="#000" stroke-width="1.3" />
<line x1="394.45" y1="228.47" x2="400.05" y2="228.47" stroke="#000" stroke-width="1.4949999999999999" />
<rect x="393.25" y="237.17" width="8.0" height="14.43" fill="#8e8e8e" stroke="#000" stroke-width="1.1"/>
<line x1="397.25" y1="251.60" x2="397.25" y2="254.40" stroke="#000" stroke-width="1.2" />
<line x1="408.80" y1="240.61" x2="408.80" y2="241.07" stroke="#000" stroke-width="1.3" />
<line x1="406.00" y1="240.61" x2="411.60" y2="240.61" stroke="#000" stroke-width="1.4949999999999999" />
<rect x="404.80" y="241.07" width="8.0" height="10.53" fill="#3a3a3a" stroke="#000" stroke-width="1.1"/>
<line x1="408.80" y1="251.60" x2="408.80" y2="254.40" stroke="#000" stroke-width="1.2" />
<text x="396.75" y="264.80" font-size="8.5" text-anchor="middle" >PolII</text>
<line x1="420.50" y1="242.90" x2="420.50" y2="246.56" stroke="#000" stroke-width="1.3" />
<line x1="417.70" y1="242.90" x2="423.30" y2="242.90" stroke="#000" stroke-width="1.4949999999999999" />
<rect x="416.50" y="246.56" width="8.0" height="5.04" fill="#fff" stroke="#000" stroke-width="1.1"/>
<line x1="420.50" y1="251.60" x2="420.50" y2="254.40" stroke="#000" stroke-width="1.2" />
<line x1="432.05" y1="247.02" x2="432.05" y2="247.25" stroke="#000" stroke-width="1.3" />
<line x1="429.25" y1="247.02" x2="434.85" y2="247.02" stroke="#000" stroke-width="1.4949999999999999" />
<rect x="428.05" y="247.25" width="8.0" height="4.35" fill="#8e8e8e" stroke="#000" stroke-width="1.1"/>
<line x1="432.05" y1="251.60" x2="432.05" y2="254.40" stroke="#000" stroke-width="1.2" />
<line x1="443.60" y1="250.45" x2="443.60" y2="250.91" stroke="#000" stroke-width="1.3" />
<line x1="440.80" y1="250.45" x2="446.40" y2="250.45" stroke="#000" stroke-width="1.4949999999999999" />
<rect x="439.60" y="250.91" width="8.0" height="0.69" fill="#3a3a3a" stroke="#000" stroke-width="1.1"/>
<line x1="443.60" y1="251.60" x2="443.60" y2="254.40" stroke="#000" stroke-width="1.2" />
<text x="431.75" y="264.80" font-size="8.5" text-anchor="middle" >PAF</text>
<line x1="454.40" y1="174.88" x2="454.40" y2="181.75" stroke="#000" stroke-width="1.3" />
<line x1="451.60" y1="174.88" x2="457.20" y2="174.88" stroke="#000" stroke-width="1.4949999999999999" />
<rect x="450.40" y="181.75" width="8.0" height="69.84" fill="#fff" stroke="#000" stroke-width="1.1"/>
<line x1="454.40" y1="251.60" x2="454.40" y2="254.40" stroke="#000" stroke-width="1.2" />
<line x1="465.95" y1="229.62" x2="465.95" y2="233.97" stroke="#000" stroke-width="1.3" />
<line x1="463.15" y1="229.62" x2="468.75" y2="229.62" stroke="#000" stroke-width="1.4949999999999999" />
<rect x="461.95" y="233.97" width="8.0" height="17.63" fill="#8e8e8e" stroke="#000" stroke-width="1.1"/>
<line x1="465.95" y1="251.60" x2="465.95" y2="254.40" stroke="#000" stroke-width="1.2" />
<line x1="477.50" y1="240.84" x2="477.50" y2="245.19" stroke="#000" stroke-width="1.3" />
<line x1="474.70" y1="240.84" x2="480.30" y2="240.84" stroke="#000" stroke-width="1.4949999999999999" />
<rect x="473.50" y="245.19" width="8.0" height="6.41" fill="#3a3a3a" stroke="#000" stroke-width="1.1"/>
<line x1="477.50" y1="251.60" x2="477.50" y2="254.40" stroke="#000" stroke-width="1.2" />
<text x="466.55" y="264.80" font-size="8.5" text-anchor="middle" >CDK9</text>
<line x1="489.80" y1="250.23" x2="489.80" y2="250.91" stroke="#000" stroke-width="1.3" />
<line x1="487.00" y1="250.23" x2="492.60" y2="250.23" stroke="#000" stroke-width="1.4949999999999999" />
<rect x="485.80" y="250.91" width="8.0" height="0.69" fill="#fff" stroke="#000" stroke-width="1.1"/>
<line x1="489.80" y1="251.60" x2="489.80" y2="254.40" stroke="#000" stroke-width="1.2" />
<line x1="501.35" y1="250.00" x2="501.35" y2="250.68" stroke="#000" stroke-width="1.3" />
<line x1="498.55" y1="250.00" x2="504.15" y2="250.00" stroke="#000" stroke-width="1.4949999999999999" />
<rect x="497.35" y="250.68" width="8.0" height="0.92" fill="#8e8e8e" stroke="#000" stroke-width="1.1"/>
<line x1="501.35" y1="251.60" x2="501.35" y2="254.40" stroke="#000" stroke-width="1.2" />
<line x1="512.90" y1="249.54" x2="512.90" y2="250.45" stroke="#000" stroke-width="1.3" />
<line x1="510.10" y1="249.54" x2="515.70" y2="249.54" stroke="#000" stroke-width="1.4949999999999999" />
<rect x="508.90" y="250.45" width="8.0" height="1.15" fill="#3a3a3a" stroke="#000" stroke-width="1.1"/>
<line x1="512.90" y1="251.60" x2="512.90" y2="254.40" stroke="#000" stroke-width="1.2" />
<text x="503.75" y="264.80" font-size="8.5" text-anchor="middle" >IgG</text>
<rect x="491.4" y="169.6" width="10.2" height="5.8" fill="#fff" stroke="#000" stroke-width="1.1"/>
<text x="507.20" y="175.60" font-size="8.5" text-anchor="start" >0h</text>
<rect x="491.4" y="180.3" width="10.2" height="5.8" fill="#8e8e8e" stroke="#000" stroke-width="1.1"/>
<text x="507.20" y="186.30" font-size="8.5" text-anchor="start" >2h</text>
<rect x="491.4" y="190.9" width="10.2" height="5.8" fill="#3a3a3a" stroke="#000" stroke-width="1.1"/>
<text x="507.20" y="196.90" font-size="8.5" text-anchor="start" >4h</text>
</g>
</g>
</svg>
</body></html>
